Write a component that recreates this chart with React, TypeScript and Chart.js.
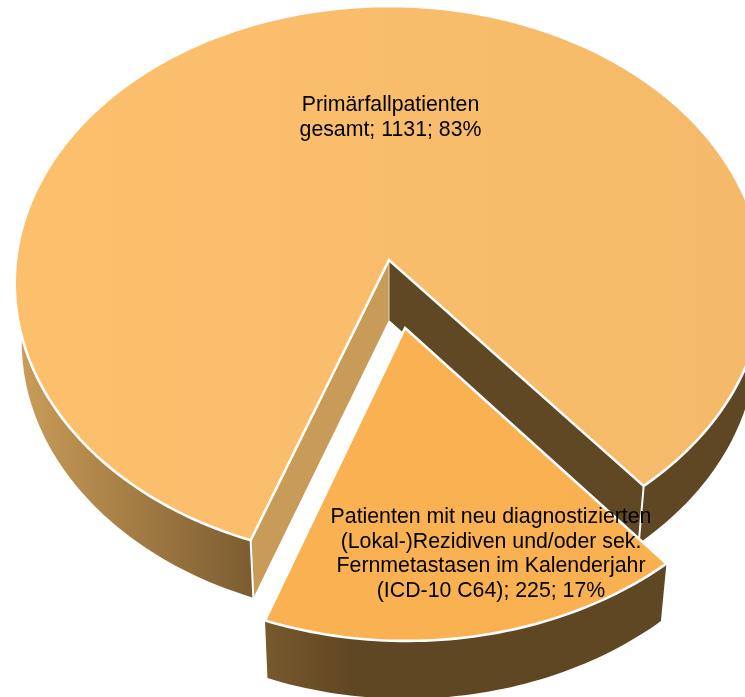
import React, { useEffect, useRef } from "react";
import { Chart, registerables } from "chart.js";

Chart.register(...registerables);

// Patient counts per group
const categoryLines = [
  ["Primärfallpatienten", "gesamt"],
  [
    "Patienten mit neu diagnostizierten",
    "(Lokal-)Rezidiven und/oder sek.",
    "Fernmetastasen im Kalenderjahr",
    "(ICD-10 C64)",
  ],
];
const patientCounts = [1131, 225];
const percentLabels = [83, 17];

type Plane = { cx: number; cy: number; rx: number; ry: number; k: number; kx: number };

// Perspective projection of the pie's unit disc: upper face and lower rim
const TOP_PLANE: Plane = { cx: 389, cy: 260, rx: 373, ry: 275, k: 0.083, kx: 0.083 };
const BOTTOM_PLANE: Plane = { cx: 389, cy: 320, rx: 366, ry: 270, k: 0.092, kx: 0.082 };
const EXPLODE = [0, 0.246];
const LABEL_ANCHORS = [
  { x: 390.5, y: 111 },
  { x: 491, y: 523 },
];
const FACE_COLORS: [string, string][] = [
  ["#fcc06d", "#f5ba69"],
  ["#fab252", "#f8b050"],
];

const project = (p: Plane, u: number, v: number) => ({
  x: p.cx + (p.rx * u) / (1 - p.kx * v),
  y: p.cy + (p.ry * v) / (1 - p.k * v),
});

const pie3d = {
  id: "pie3d",
  beforeDatasetsDraw(chart: Chart) {
    const { ctx } = chart;
    const arcs = chart.getDatasetMeta(0).data as any[];

    ctx.save();
    arcs.forEach((arc, i) => {
      const { startAngle, endAngle } = arc.getProps(["startAngle", "endAngle"], true);
      const mid = (startAngle + endAngle) / 2;
      const ox = Math.cos(mid) * EXPLODE[i];
      const oy = Math.sin(mid) * EXPLODE[i];

      const rim = (p: Plane, a: number) => project(p, Math.cos(a) + ox, Math.sin(a) + oy);
      const hub = (p: Plane) => project(p, ox, oy);
      const steps = Math.max(8, Math.ceil((endAngle - startAngle) / 0.02));
      const angles = Array.from(
        { length: steps + 1 },
        (_, t) => startAngle + ((endAngle - startAngle) * t) / steps
      );

      // Outer wall between the two rims, shaded from left to right
      const wallShade = ctx.createLinearGradient(22, 0, 350, 0);
      wallShade.addColorStop(0, "#c99c58");
      wallShade.addColorStop(0.7, "#7c5c30");
      wallShade.addColorStop(1, "#604723");
      ctx.beginPath();
      angles.forEach((a, t) => {
        const q = rim(TOP_PLANE, a);
        t ? ctx.lineTo(q.x, q.y) : ctx.moveTo(q.x, q.y);
      });
      [...angles].reverse().forEach((a) => {
        const q = rim(BOTTOM_PLANE, a);
        ctx.lineTo(q.x, q.y);
      });
      ctx.closePath();
      ctx.fillStyle = wallShade;
      ctx.fill();

      const hubTop = hub(TOP_PLANE);
      const hubBottom = hub(BOTTOM_PLANE);

      // Only the slice left in place shows its cut faces
      if (EXPLODE[i] === 0) {
        const cutFace = (a: number, color: string) => {
          const r0 = rim(TOP_PLANE, a);
          const r1 = rim(BOTTOM_PLANE, a);
          ctx.beginPath();
          ctx.moveTo(hubTop.x, hubTop.y);
          ctx.lineTo(r0.x, r0.y);
          ctx.lineTo(r1.x, r1.y);
          ctx.lineTo(hubBottom.x, hubBottom.y);
          ctx.closePath();
          ctx.fillStyle = color;
          ctx.fill();
        };
        cutFace(startAngle, "#c89b58");
        cutFace(endAngle, "#614825");

        // Vertical edges at the corners of the slice
        ctx.strokeStyle = "#ffffff";
        ctx.lineWidth = 2;
        [startAngle, endAngle].forEach((a) => {
          const q0 = rim(TOP_PLANE, a);
          const q1 = rim(BOTTOM_PLANE, a);
          ctx.beginPath();
          ctx.moveTo(q0.x, q0.y);
          ctx.lineTo(q1.x, q1.y);
          ctx.stroke();
        });
        ctx.strokeStyle = "#e8d4b4";
        ctx.lineWidth = 1;
        ctx.beginPath();
        ctx.moveTo(hubTop.x, hubTop.y);
        ctx.lineTo(hubBottom.x, hubBottom.y);
        ctx.stroke();
      }

      // Upper face of the slice
      const face = ctx.createLinearGradient(15, 0, 745, 0);
      face.addColorStop(0, FACE_COLORS[i][0]);
      face.addColorStop(1, FACE_COLORS[i][1]);
      ctx.beginPath();
      ctx.moveTo(hubTop.x, hubTop.y);
      angles.forEach((a) => {
        const q = rim(TOP_PLANE, a);
        ctx.lineTo(q.x, q.y);
      });
      ctx.closePath();
      ctx.fillStyle = face;
      ctx.fill();
      ctx.strokeStyle = "#ffffff";
      ctx.lineWidth = 2.6;
      ctx.lineJoin = "miter";
      ctx.stroke();
    });

    // Data labels: name, count and share
    ctx.fillStyle = "#000000";
    ctx.font = '21.3px "Liberation Sans", Arial, sans-serif';
    ctx.textAlign = "center";
    ctx.textBaseline = "alphabetic";
    categoryLines.forEach((lines, i) => {
      const rows = [...lines];
      rows[rows.length - 1] += `; ${patientCounts[i]}; ${percentLabels[i]}%`;
      rows.forEach((row, r) => {
        ctx.fillText(row, LABEL_ANCHORS[i].x, LABEL_ANCHORS[i].y + r * 24.6);
      });
    });
    ctx.restore();
    return false;
  },
};

export default function App() {
  const canvasRef = useRef<HTMLCanvasElement>(null);

  useEffect(() => {
    const chart = new Chart(canvasRef.current!, {
      type: "pie",
      data: {
        labels: categoryLines.map((lines) => lines.join(" ")),
        datasets: [{ data: patientCounts, backgroundColor: ["#f7bd6a", "#f9b151"] }],
      },
      options: {
        animation: false,
        responsive: false,
        rotation: 200,
        plugins: { legend: { display: false }, tooltip: { enabled: false } },
      },
      plugins: [pie3d],
    });
    return () => chart.destroy();
  }, []);

  return (
    <div style={{ position: "fixed", left: 0, top: 0, width: 745, height: 697, background: "#ffffff" }}>
      <canvas ref={canvasRef} width={745} height={697} style={{ display: "block" }} />
    </div>
  );
}
